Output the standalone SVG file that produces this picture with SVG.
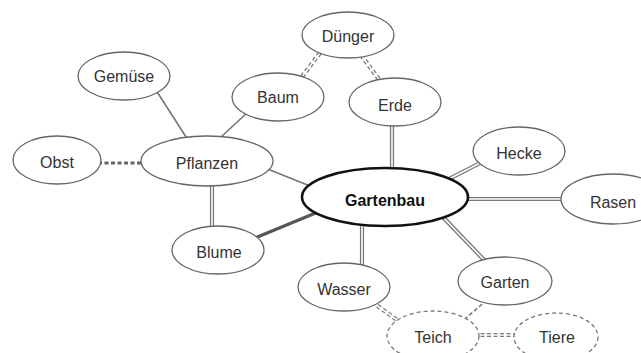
<svg xmlns="http://www.w3.org/2000/svg" width="641" height="353" viewBox="0 0 641 353">
<style>
.n ellipse{fill:#fff;stroke:#666;stroke-width:1.3}
.n text{font-family:"Liberation Sans",Arial,sans-serif;font-size:16px;fill:#333;text-anchor:middle;dominant-baseline:central}
.d ellipse{stroke-dasharray:4 3;stroke:#777}
#gartenbau ellipse{stroke:#111;stroke-width:2.6}
#gartenbau text{font-weight:bold;fill:#111}
.s{stroke:#777;stroke-width:1.6;fill:none}
.t{stroke:#555;stroke-width:3;fill:none}
.dbl{stroke:#777;stroke-width:4.2;fill:none}
.dblw{stroke:#fff;stroke-width:1.6;fill:none}
.dash{stroke-dasharray:4 2.5}
</style>
<g id="connectors">
<line class="s" x1="152" y1="84" x2="188" y2="140"/>
<line class="s" x1="250" y1="110" x2="220" y2="138"/>
<line class="s" x1="265" y1="168" x2="310" y2="186"/>
<line class="t" x1="255" y1="238" x2="318" y2="212"/>
<line class="s dash" style="stroke-width:3;stroke:#666" x1="98" y1="163" x2="145" y2="163"/>
<g>
<line class="dbl" x1="212" y1="182" x2="212" y2="230"/>
<line class="dbl" x1="392" y1="122" x2="392" y2="170"/>
<line class="dbl" x1="484" y1="161" x2="445" y2="181"/>
<line class="dbl" x1="462" y1="199" x2="566" y2="199"/>
<line class="dbl" x1="440" y1="214" x2="486" y2="262"/>
<line class="dbl" x1="362" y1="220" x2="362" y2="266"/>
<line class="dbl dash" x1="298" y1="82" x2="320" y2="53"/>
<line class="dbl dash" x1="361" y1="55" x2="381" y2="82"/>
<line class="dbl dash" x1="372" y1="302" x2="400" y2="322"/>
<line class="dbl dash" x1="474" y1="335" x2="518" y2="335"/>
<line class="dblw" x1="212" y1="182" x2="212" y2="230"/>
<line class="dblw" x1="392" y1="122" x2="392" y2="170"/>
<line class="dblw" x1="484" y1="161" x2="445" y2="181"/>
<line class="dblw" x1="462" y1="199" x2="566" y2="199"/>
<line class="dblw" x1="440" y1="214" x2="486" y2="262"/>
<line class="dblw" x1="362" y1="220" x2="362" y2="266"/>
<line class="dblw" x1="298" y1="82" x2="320" y2="53"/>
<line class="dblw" x1="361" y1="55" x2="381" y2="82"/>
<line class="dblw" x1="372" y1="302" x2="400" y2="322"/>
<line class="dblw" x1="474" y1="335" x2="518" y2="335"/>
</g>
<line class="s dash" x1="487" y1="300" x2="466" y2="318"/>
</g>
<g id="gemuese" class="n"><ellipse cx="124" cy="76" rx="46" ry="24"/><text x="124" y="76">Gemüse</text></g>
<g id="baum" class="n"><ellipse cx="278" cy="97" rx="46" ry="24"/><text x="278" y="97">Baum</text></g>
<g id="obst" class="n"><ellipse cx="57" cy="160" rx="44" ry="24"/><text x="57" y="162">Obst</text></g>
<g id="pflanzen" class="n"><ellipse cx="207" cy="161" rx="66" ry="25"/><text x="207" y="163">Pflanzen</text></g>
<g id="duenger" class="n"><ellipse cx="348" cy="35" rx="46" ry="23"/><text x="348" y="36">Dünger</text></g>
<g id="erde" class="n"><ellipse cx="395" cy="102" rx="46" ry="24"/><text x="395" y="105">Erde</text></g>
<g id="hecke" class="n"><ellipse cx="519" cy="151" rx="46" ry="24"/><text x="519" y="153">Hecke</text></g>
<g id="gartenbau" class="n"><ellipse cx="385" cy="197" rx="83" ry="29"/><text x="385" y="200">Gartenbau</text></g>
<g id="rasen" class="n"><ellipse cx="613" cy="199" rx="52" ry="25"/><text x="613" y="202">Rasen</text></g>
<g id="blume" class="n"><ellipse cx="218" cy="250" rx="46" ry="24"/><text x="219" y="252">Blume</text></g>
<g id="wasser" class="n"><ellipse cx="344" cy="287" rx="46" ry="24"/><text x="344" y="289">Wasser</text></g>
<g id="garten" class="n"><ellipse cx="505" cy="281" rx="47" ry="24"/><text x="505" y="282">Garten</text></g>
<g id="teich" class="n d"><ellipse cx="433" cy="336" rx="46" ry="25"/><text x="433" y="337">Teich</text></g>
<g id="tiere" class="n d"><ellipse cx="556" cy="337" rx="42" ry="24"/><text x="557" y="337">Tiere</text></g>
</svg>
